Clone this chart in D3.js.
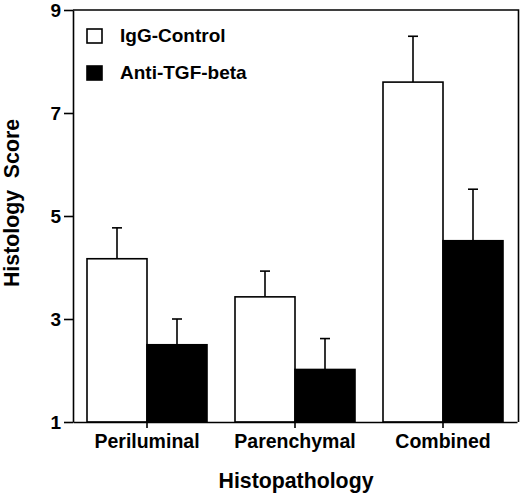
<!DOCTYPE html>
<html>
<head>
<meta charset="utf-8">
<script src="https://cdn.jsdelivr.net/npm/d3@7"></script>
<style>
  body { margin: 0; background: #fff; }
  svg { display: block; font-family: "Liberation Sans", Arial, sans-serif; font-weight: bold; }
</style>
</head>
<body>
<svg id="chart" width="520" height="494"></svg>
<script>
// Chart data
const categories = ["Periluminal", "Parenchymal", "Combined"];
const series = ["IgG-Control", "Anti-TGF-beta"];
const iggValues = [4.17, 3.43, 7.6];
const iggErrors = [0.6, 0.5, 0.89];
const antiValues = [2.5, 2.02, 4.52];
const antiErrors = [0.5, 0.6, 1.0];
const yTicks = [1, 3, 5, 7, 9];

const seriesFill = { "IgG-Control": "#fff", "Anti-TGF-beta": "#000" };

// Plot area
const LEFT = 73;
const RIGHT = 517;
const TOP = 10;
const BOTTOM = 422;
const BAR_W = 60;
const CAP_W = 10;
const LINE_W = 1.6;

const svg = d3.select("#chart");

const x = d3.scaleBand().domain(categories).range([LEFT, RIGHT]).padding(0);
const xInner = d3
  .scaleBand()
  .domain(series)
  .range([x.bandwidth() / 2 - BAR_W, x.bandwidth() / 2 + BAR_W]);
const y = d3.scaleLinear().domain([1, 9]).range([BOTTOM, TOP]);

const rows = [];
categories.forEach((cat, i) => {
  rows.push({ cat, s: series[0], v: iggValues[i], e: iggErrors[i] });
  rows.push({ cat, s: series[1], v: antiValues[i], e: antiErrors[i] });
});

// frame (top and right edges)
svg
  .append("path")
  .attr("d", `M${LEFT},${TOP} H${RIGHT + 1.5} V${BOTTOM}`)
  .attr("fill", "none")
  .attr("stroke", "#000")
  .attr("stroke-width", LINE_W);

// error bars drawn first so bar tops cover their base
const errG = svg.append("g").attr("stroke", "#000").attr("stroke-width", LINE_W);
rows.forEach((d) => {
  const cx = x(d.cat) + xInner(d.s) + BAR_W / 2;
  errG
    .append("line")
    .attr("x1", cx)
    .attr("x2", cx)
    .attr("y1", y(d.v))
    .attr("y2", y(d.v + d.e));
  errG
    .append("line")
    .attr("x1", cx - CAP_W / 2)
    .attr("x2", cx + CAP_W / 2)
    .attr("y1", y(d.v + d.e))
    .attr("y2", y(d.v + d.e));
});

// bars
svg
  .append("g")
  .selectAll("rect")
  .data(rows)
  .join("rect")
  .attr("x", (d) => x(d.cat) + xInner(d.s))
  .attr("y", (d) => y(d.v))
  .attr("width", BAR_W)
  .attr("height", (d) => y(1) - y(d.v))
  .attr("fill", (d) => seriesFill[d.s])
  .attr("stroke", "#000")
  .attr("stroke-width", LINE_W);

// y axis
const yAxis = svg
  .append("g")
  .attr("transform", `translate(${LEFT},0)`)
  .call(d3.axisLeft(y).tickValues(yTicks).tickFormat(d3.format("d")).tickSize(9).tickSizeOuter(0).tickPadding(3));
yAxis.select(".domain").attr("stroke-width", LINE_W);
yAxis.selectAll(".tick line").attr("stroke-width", LINE_W);
yAxis
  .selectAll(".tick text")
  .attr("font-family", "Liberation Sans, Arial, sans-serif")
  .attr("font-weight", "bold")
  .attr("font-size", 19)
  .attr("fill", "#000");

// x axis
const xAxis = svg
  .append("g")
  .attr("transform", `translate(0,${BOTTOM})`)
  .call(d3.axisBottom(x).tickSize(6).tickSizeOuter(0));
xAxis.select(".domain").attr("stroke-width", LINE_W);
xAxis.selectAll(".tick line").attr("stroke-width", LINE_W);
xAxis
  .selectAll(".tick text")
  .attr("y", 26)
  .attr("dy", 0)
  .attr("font-family", "Liberation Sans, Arial, sans-serif")
  .attr("font-weight", "bold")
  .attr("font-size", 19.5)
  .attr("fill", "#000");

// axis titles
svg
  .append("text")
  .attr("x", (LEFT + RIGHT) / 2 + 1)
  .attr("y", 488)
  .attr("text-anchor", "middle")
  .attr("font-size", 21.3)
  .text("Histopathology");

svg
  .append("text")
  .attr("transform", "translate(19,203) rotate(-90)")
  .attr("text-anchor", "middle")
  .attr("font-size", 21.3)
  .attr("xml:space", "preserve")
  .text("Histology  Score");

// legend
const legend = svg
  .append("g")
  .selectAll("g")
  .data(series)
  .join("g")
  .attr("transform", (d, i) => `translate(87,${29 + i * 37})`);
legend
  .append("rect")
  .attr("width", 15)
  .attr("height", 14)
  .attr("fill", (d) => seriesFill[d])
  .attr("stroke", "#000")
  .attr("stroke-width", LINE_W);
legend
  .append("text")
  .attr("x", 33)
  .attr("y", 13)
  .attr("font-size", 19)
  .text((d) => d);
</script>
</body>
</html>
